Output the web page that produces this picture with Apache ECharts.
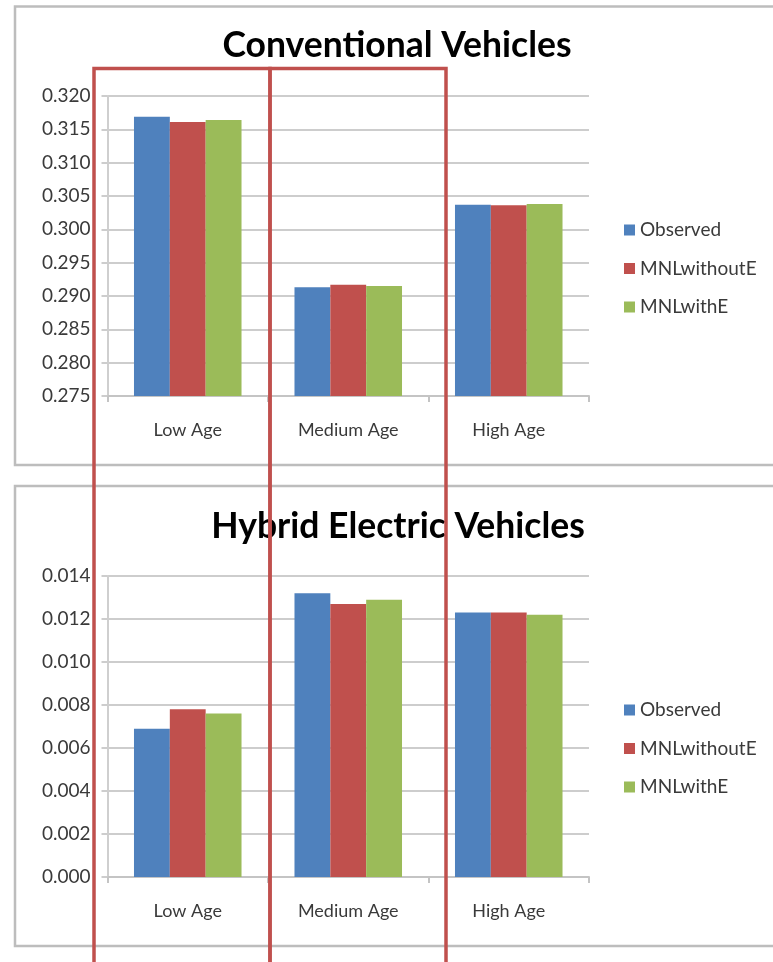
<!DOCTYPE html>
<html>
<head>
<meta charset="utf-8">
<script src="https://cdn.jsdelivr.net/npm/echarts@6/dist/echarts.min.js"></script>
<style>
  html, body { margin: 0; padding: 0; background: #ffffff; }
  #chart { width: 773px; height: 962px; }
</style>
</head>
<body>
<div id="chart"></div>
<script>
// Vehicle age categories shared by both panels
const categories = ['Low Age', 'Medium Age', 'High Age'];
const seriesNames = ['Observed', 'MNLwithoutE', 'MNLwithE'];

// Conventional vehicles: market shares
const convObserved = [0.3169, 0.2913, 0.3037];
const convWithoutE = [0.3161, 0.2917, 0.3036];
const convWithE    = [0.3164, 0.2915, 0.3038];

// Hybrid electric vehicles: market shares
const hevObserved = [0.0069, 0.0132, 0.0123];
const hevWithoutE = [0.0078, 0.0127, 0.0123];
const hevWithE    = [0.0076, 0.0129, 0.0122];

// Panel titles and value-axis ranges
const panelTitles = ['Conventional Vehicles', 'Hybrid Electric Vehicles'];
const convAxis = { min: 0.275, max: 0.320, interval: 0.005 };
const hevAxis  = { min: 0.000, max: 0.014, interval: 0.002 };

const colors = ['#4f81bd', '#c0504d', '#9bbb59'];
const FONT = 'Lato, "Open Sans", sans-serif';
const gridColor = '#cdcdcd';
const labelColor = '#3a3a3a';

function xAxisFor(gridIndex) {
  return {
    type: 'category',
    gridIndex: gridIndex,
    data: categories,
    axisLine: { lineStyle: { color: '#c4c4c4', width: 2 } },
    axisTick: { show: true, length: 6, lineStyle: { color: '#c4c4c4', width: 2 } },
    axisLabel: { color: labelColor, fontSize: 18, fontFamily: FONT, margin: 25 }
  };
}

function yAxisFor(gridIndex, range) {
  return {
    type: 'value',
    gridIndex: gridIndex,
    min: range.min,
    max: range.max,
    interval: range.interval,
    axisLine: { show: true, lineStyle: { color: '#cfcfcf', width: 2 } },
    axisTick: { show: true, length: 6, lineStyle: { color: gridColor, width: 2 } },
    splitLine: { lineStyle: { color: gridColor, width: 2 } },
    axisLabel: {
      color: labelColor, fontSize: 19, fontFamily: FONT, margin: 17,
      formatter: v => v.toFixed(3)
    }
  };
}

function barSeries(name, data, idx, gridIndex) {
  return {
    name: name,
    type: 'bar',
    xAxisIndex: gridIndex,
    yAxisIndex: gridIndex,
    data: data,
    barGap: '0%',
    barCategoryGap: '33%',
    itemStyle: { color: colors[idx] },
    emphasis: { disabled: true }
  };
}

function legendFor(top) {
  return {
    orient: 'vertical',
    left: 624,
    top: top,
    padding: 0,
    itemWidth: 11,
    itemHeight: 11,
    itemGap: 18.5,
    icon: 'rect',
    data: seriesNames,
    textStyle: { color: labelColor, fontSize: 19, fontFamily: FONT, lineHeight: 20, padding: [0, 0, 0, 0] }
  };
}

const chart = echarts.init(document.getElementById('chart'), null, { renderer: 'canvas' });

chart.setOption({
  backgroundColor: '#ffffff',
  animation: false,
  title: [
    {
      text: panelTitles[0], left: 397, top: 28, textAlign: 'center', padding: 0,
      textStyle: { fontSize: 35.5, fontWeight: 'bold', color: '#000000', fontFamily: FONT }
    },
    {
      text: panelTitles[1], left: 398, top: 509, textAlign: 'center', padding: 0,
      textStyle: { fontSize: 35.5, fontWeight: 'bold', color: '#000000', fontFamily: FONT }
    }
  ],
  legend: [legendFor(220), legendFor(700)],
  grid: [
    { left: 107.5, top: 96, width: 481.5, height: 300 },
    { left: 107.5, top: 576, width: 481.5, height: 301 }
  ],
  xAxis: [xAxisFor(0), xAxisFor(1)],
  yAxis: [yAxisFor(0, convAxis), yAxisFor(1, hevAxis)],
  series: [
    barSeries(seriesNames[0], convObserved, 0, 0),
    barSeries(seriesNames[1], convWithoutE, 1, 0),
    barSeries(seriesNames[2], convWithE, 2, 0),
    barSeries(seriesNames[0], hevObserved, 0, 1),
    barSeries(seriesNames[1], hevWithoutE, 1, 1),
    barSeries(seriesNames[2], hevWithE, 2, 1)
  ],
  graphic: [
    // panel frames
    {
      type: 'rect', z: -1, silent: true,
      shape: { x: 15, y: 6.5, width: 800, height: 458.5 },
      style: { fill: 'none', stroke: '#bdbdbd', lineWidth: 2.5 }
    },
    {
      type: 'rect', z: -1, silent: true,
      shape: { x: 15, y: 486, width: 800, height: 460 },
      style: { fill: 'none', stroke: '#bdbdbd', lineWidth: 2.5 }
    },
    // highlight boxes around the low and medium age groups
    {
      type: 'rect', z: 100, silent: true,
      shape: { x: 94, y: 68.5, width: 176, height: 897 },
      style: { fill: 'none', stroke: '#c0504d', lineWidth: 3.5 }
    },
    {
      type: 'rect', z: 100, silent: true,
      shape: { x: 270, y: 68.5, width: 176, height: 897 },
      style: { fill: 'none', stroke: '#c0504d', lineWidth: 3.5 }
    }
  ]
});
</script>
</body>
</html>
